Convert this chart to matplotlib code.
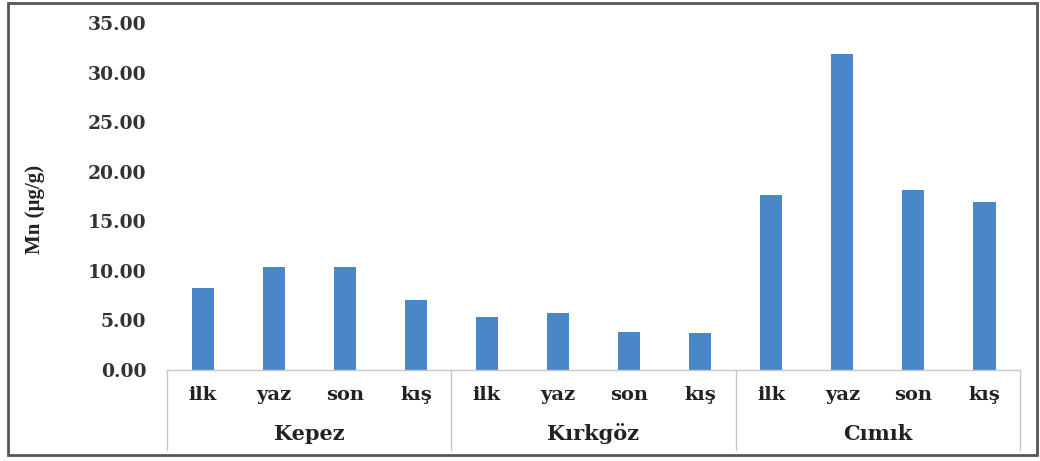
import matplotlib
matplotlib.use("Agg")
import matplotlib.pyplot as plt
from matplotlib.patches import Rectangle
from matplotlib.transforms import blended_transform_factory
from matplotlib.lines import Line2D

groups = ["Kepez", "Kırkgöz", "Cımık"]
seasons = ["ilk", "yaz", "son", "kış"]
values = {
    "Kepez":   [8.24, 10.36, 10.36, 7.06],
    "Kırkgöz": [5.38, 5.72, 3.87, 3.70],
    "Cımık":   [17.66, 31.90, 18.16, 16.92],
}
yticks = [0, 5, 10, 15, 20, 25, 30, 35]
ytick_labels = ["0.00", "5.00", "10.00", "15.00", "20.00", "25.00", "30.00", "35.00"]
ylabel = "Mn (µg/g)"

plt.rcParams['font.family'] = ['DejaVu Serif', 'Liberation Serif']

fig = plt.figure(figsize=(10.4, 4.61), dpi=100)
ax = fig.add_axes([0.1606, 0.1974, 0.8202, 0.7526])

bar_color = "#4a87c9"
xs = []
hs = []
for gi, g in enumerate(groups):
    for si, s in enumerate(seasons):
        xs.append(gi * len(seasons) + si)
        hs.append(values[g][si])
ax.bar(xs, hs, width=0.31, color=bar_color)

n = len(xs)
ax.set_xlim(-0.5, n - 0.5)
ax.set_ylim(0, 35)
ax.set_yticks(yticks)
ax.set_yticklabels(ytick_labels, fontsize=13.5, fontweight='bold', color='#333333')
ax.tick_params(axis='y', length=0, pad=15)
ax.set_xticks([])
for sp in ['top', 'right', 'left']:
    ax.spines[sp].set_visible(False)
ax.spines['bottom'].set_color('#c8c8c8')
ax.spines['bottom'].set_linewidth(1.0)

fig.text(35 / 1040, 1 - 209 / 461, ylabel, rotation=90, ha='center', va='center',
         fontsize=15, fontweight='bold', color='#222222', family='Liberation Serif')

tr = blended_transform_factory(ax.transData, fig.transFigure)
# category labels
for x, s in zip(xs, [s for g in groups for s in seasons]):
    ax.text(x, 1 - 395 / 461, s, transform=tr, ha='center', va='center',
            fontsize=14, fontweight='bold', color='#222222')
for gi, g in enumerate(groups):
    cx = gi * len(seasons) + (len(seasons) - 1) / 2
    ax.text(cx, 1 - 434 / 461, g, transform=tr, ha='center', va='center',
            fontsize=15, fontweight='bold', color='#222222')
# separators
for gi in range(len(groups) + 1):
    xb = gi * len(seasons) - 0.5
    ln = Line2D([xb, xb], [1 - 370 / 461, 1 - 450 / 461], transform=tr,
                color='#c8c8c8', lw=1.0, clip_on=False)
    ax.add_line(ln)

# outer frame
fig.patches.append(Rectangle((8 / 1040, 1 - 455 / 461), (1037 - 8) / 1040, (455 - 3) / 461,
                             transform=fig.transFigure, fill=False,
                             edgecolor='#555555', lw=2))

fig.savefig("out.png", dpi=100)
